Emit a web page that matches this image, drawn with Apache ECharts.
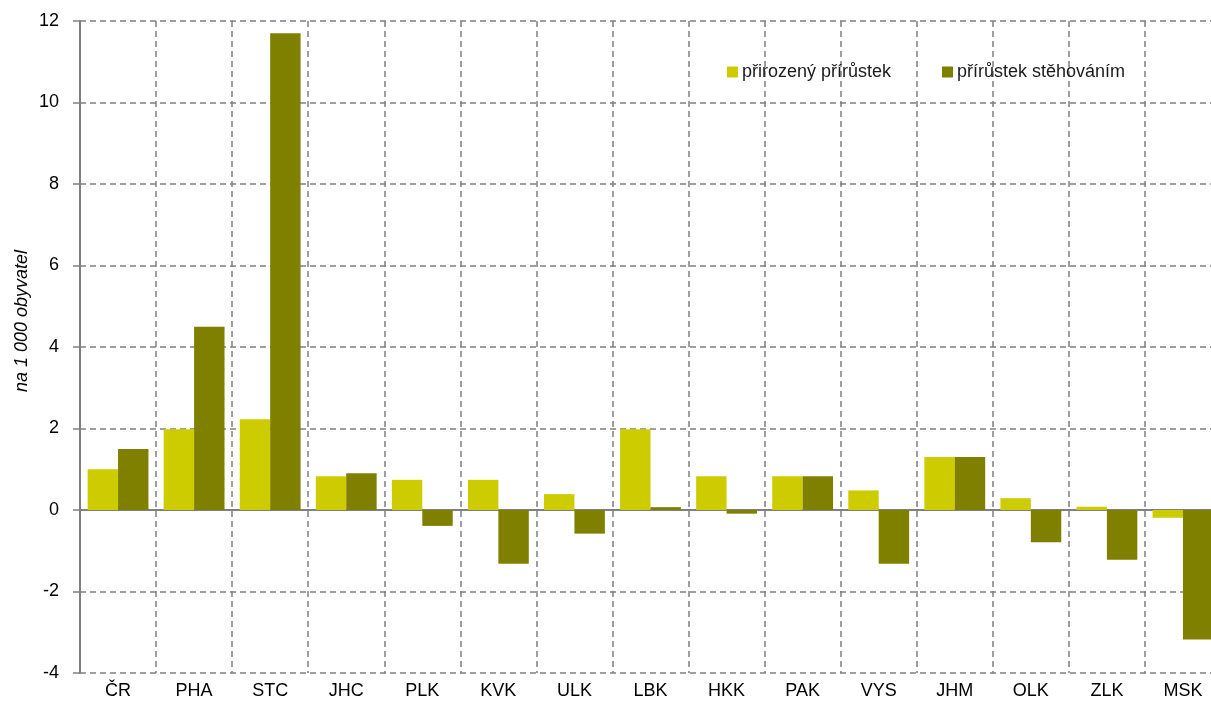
<!DOCTYPE html>
<html>
<head>
<meta charset="utf-8">
<script src="https://cdn.jsdelivr.net/npm/echarts@6/dist/echarts.min.js"></script>
<style>html,body{margin:0;padding:0;background:#fff}#c{width:1211px;height:717px}</style>
</head>
<body>
<div id="c"></div>
<script>
const categories = ['ČR','PHA','STC','JHC','PLK','KVK','ULK','LBK','HKK','PAK','VYS','JHM','OLK','ZLK','MSK'];
const natural = [1.0, 1.98, 2.23, 0.83, 0.74, 0.74, 0.39, 1.98, 0.83, 0.83, 0.48, 1.3, 0.29, 0.08, -0.19];
const migration = [1.5, 4.5, 11.7, 0.9, -0.39, -1.32, -0.58, 0.07, -0.09, 0.83, -1.32, 1.3, -0.79, -1.22, -3.18];
const seriesNames = ['přirozený přírůstek', 'přírůstek stěhováním'];
const yAxisTitle = 'na 1 000 obyvatel';

const chart = echarts.init(document.getElementById('c'), null, {renderer: 'canvas'});
const font = 'Liberation Sans, Arial, sans-serif';
const legendCommon = {
  top: 58, icon: 'rect', itemWidth: 11, itemHeight: 11, itemGap: 4,
  textStyle: {fontSize: 18, color: '#1a1a1a', fontFamily: font, padding: [0, 0, 0, -1]}
};
chart.setOption({
  animation: false,
  textStyle: {fontFamily: font},
  grid: {left: 80, top: 21, width: 1141, height: 652, outerBoundsMode: 'none', containLabel: false},
  legend: [
    Object.assign({left: 722, data: [seriesNames[0]]}, legendCommon),
    Object.assign({left: 937, data: [seriesNames[1]]}, legendCommon)
  ],
  graphic: [{
    type: 'text', left: 13, top: 250, rotation: Math.PI / 2,
    style: {text: yAxisTitle, font: 'italic 18px ' + font, fill: '#000'}
  }],
  xAxis: {
    type: 'category', data: categories,
    axisLine: {onZero: true, lineStyle: {color: '#808080', width: 2}},
    axisTick: {show: false},
    axisLabel: {fontSize: 18, color: '#000', margin: 9, interval: 0},
    splitLine: {show: true, interval: 0, lineStyle: {color: '#808080', type: [6, 4], width: 1.5}}
  },
  yAxis: {
    type: 'value', min: -4, max: 12, interval: 2,
    axisLine: {show: true, lineStyle: {color: '#808080', width: 2}},
    axisTick: {show: true, length: 7, lineStyle: {color: '#808080', width: 1.5}},
    axisLabel: {fontSize: 18, color: '#000', margin: 21},
    splitLine: {show: true, lineStyle: {color: '#808080', type: [6, 4], width: 1.5}}
  },
  series: [
    {name: seriesNames[0], type: 'bar', data: natural, itemStyle: {color: '#CCCC00'}, barGap: '0%', barCategoryGap: '20%'},
    {name: seriesNames[1], type: 'bar', data: migration, itemStyle: {color: '#808000'}, barGap: '0%', barCategoryGap: '20%'}
  ]
});
</script>
</body>
</html>
